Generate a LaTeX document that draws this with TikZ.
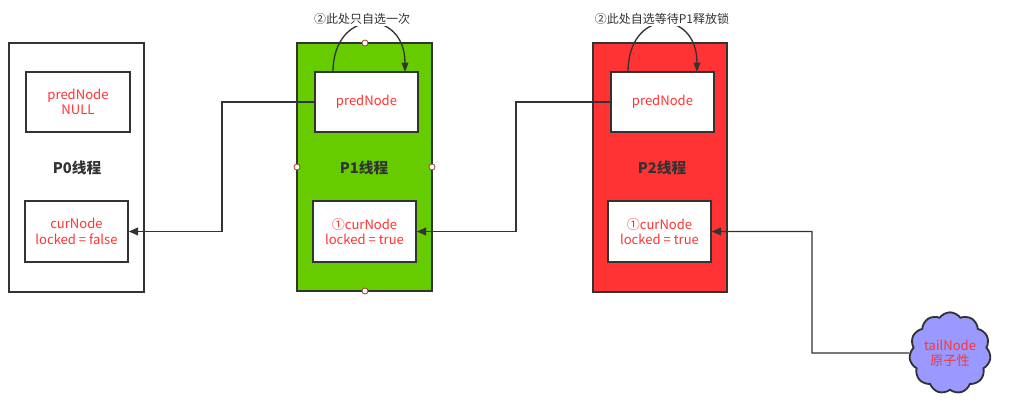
\documentclass[tikz,border=0pt]{standalone}
\usepackage{fontspec}
\setmainfont{Noto Sans CJK SC}
\usetikzlibrary{arrows.meta,shapes.symbols}
\definecolor{bd}{HTML}{333333}
\definecolor{txtred}{HTML}{FF3333}
\definecolor{pgreen}{HTML}{66CC00}
\definecolor{pred}{HTML}{FF3333}
\definecolor{cloudc}{HTML}{9999FF}
\definecolor{handle}{HTML}{A33A3A}
\tikzset{
  inbox/.style={draw=bd,line width=1.3pt,fill=white,text=txtred,align=center,font=\fontsize{9.8}{11.5}\selectfont,inner sep=0pt},
  title/.style={font=\fontsize{11}{12}\selectfont\bfseries,text=bd},
  conn/.style={draw=bd,line width=0.9pt,-{Triangle[length=7pt,width=6pt]}},
  curv/.style={draw=bd,line width=1pt,-{Triangle[length=7pt,width=5pt]}},
  lab/.style={font=\fontsize{9}{10}\selectfont,text=bd,fill=white,inner sep=1pt},
  hdl/.style={circle,draw=handle,fill=white,line width=0.6pt,minimum size=4.5pt,inner sep=0pt}
}
\begin{document}
\begin{tikzpicture}[x=0.75pt,y=-0.75pt]
\useasboundingbox[fill=white] (0,0) rectangle (1025,410);
% P0
\node[draw=bd,line width=1.3pt,fill=white,minimum width={135*0.75pt},minimum height={249*0.75pt}] (p0) at (76.5,167.5) {};
\node[inbox,minimum width={104*0.75pt},minimum height={60*0.75pt}] (p0pred) at (78,102) {predNode\\NULL};
\node[title] (p0t) at (77,168) {P0线程};
\node[inbox,minimum width={103*0.75pt},minimum height={61*0.75pt}] (p0cur) at (76.5,231.5) {curNode\\locked = false};
% P1
\node[draw=bd,line width=1.3pt,fill=pgreen,minimum width={135*0.75pt},minimum height={248*0.75pt}] (p1) at (364.5,167) {};
\node[inbox,minimum width={103*0.75pt},minimum height={60*0.75pt}] (p1pred) at (366.5,102) {predNode};
\node[title] (p1t) at (364,168) {P1线程};
\node[inbox,minimum width={103*0.75pt},minimum height={61*0.75pt}] (p1cur) at (364.5,231.5) {①curNode\\locked = true};
% P2
\node[draw=bd,line width=1.3pt,fill=pred,minimum width={134*0.75pt},minimum height={249*0.75pt}] (p2) at (660,167.5) {};
\node[inbox,minimum width={103*0.75pt},minimum height={60*0.75pt}] (p2pred) at (662.5,102) {predNode};
\node[title] (p2t) at (662,168) {P2线程};
\node[inbox,minimum width={103*0.75pt},minimum height={61*0.75pt}] (p2cur) at (659.5,231.5) {①curNode\\locked = true};
% cloud
\node[cloud,cloud puffs=11,cloud puff arc=110,draw=bd,line width=1.4pt,fill=cloudc,text=txtred,align=center,font=\fontsize{9.8}{11}\selectfont,minimum width={80*0.75pt},minimum height={60*0.75pt},inner sep=0pt] (tail) at (950,353) {tailNode\\原子性};
% connectors
\draw[conn] (p1pred.west) -- (222,102) |- (p0cur.east);
\draw[conn] (p2pred.west) -- (516,102) |- (p1cur.east);
\draw[conn] (tail.west) -- (812,353) |- (p2cur.east);
% curved arrows
\coordinate (a1s) at (333,72);
\coordinate (a1e) at (405,72);
\draw[curv] (a1s) .. controls (333,8) and (405,8) .. (a1e);
\node[lab] (l1) at (362,19) {②此处只自选一次};
\coordinate (a2s) at (628,72);
\coordinate (a2e) at (697,72);
\draw[curv] (a2s) .. controls (628,8) and (697,8) .. (a2e);
\node[lab] (l2) at (662,19) {②此处自选等待P1释放锁};
% handles
\node[hdl] (h1) at (365,43) {};
\node[hdl] (h2) at (297,167) {};
\node[hdl] (h3) at (432,167) {};
\node[hdl] (h4) at (365,291) {};
\end{tikzpicture}
\end{document}
